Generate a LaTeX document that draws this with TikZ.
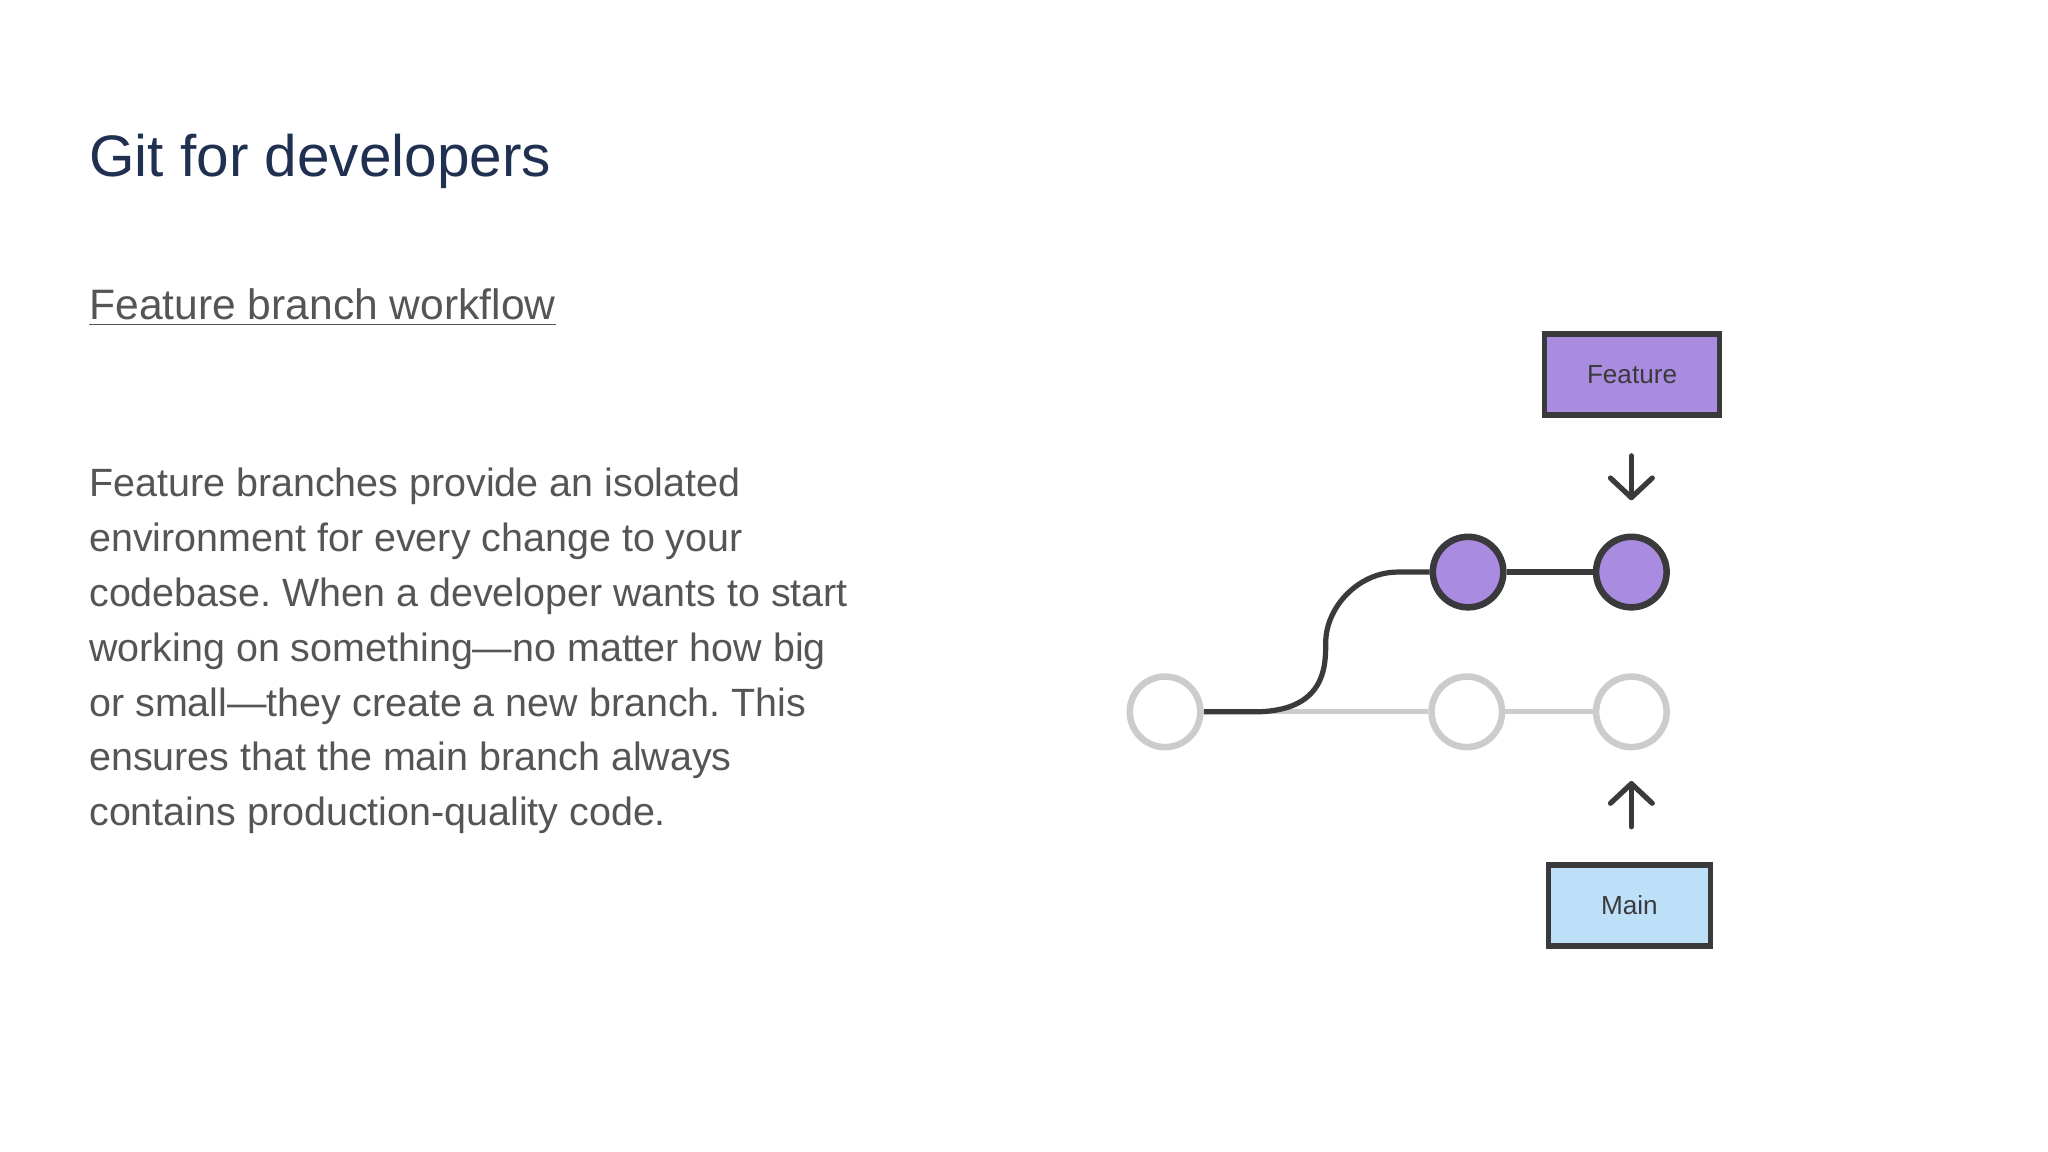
\documentclass[tikz,border=0pt]{standalone}
\usepackage{fontspec}
\setmainfont{Liberation Sans}
\usetikzlibrary{positioning, backgrounds}
\definecolor{titleblue}{HTML}{1F3050}
\definecolor{bodygrey}{HTML}{555555}
\definecolor{edgedark}{HTML}{3A3A3C}
\definecolor{edgelight}{HTML}{CCCCCC}
\definecolor{featfill}{HTML}{A98BE0}
\definecolor{mainfill}{HTML}{BDE0F8}
\tikzset{
  commit/.style={circle, draw=edgelight, line width=2.5pt, fill=white, minimum size=27pt, inner sep=0pt},
  featcommit/.style={commit, draw=edgedark, fill=featfill},
  branchbox/.style={draw=edgedark, line width=2.2pt, minimum height=31pt, font=\fontsize{10}{12}\selectfont, text=edgedark},
  pointer/.style={draw=edgedark, line width=2pt, line cap=round, line join=round}
}
\frenchspacing
\begin{document}
\begin{tikzpicture}[x=0.5pt, y=-0.5pt]
\useasboundingbox (0,0) rectangle (1568,882);

\node[anchor=base west, text=titleblue, font=\fontsize{22.4}{27}\selectfont, inner sep=0pt] (title) at (68,135) {Git for developers};
\node[anchor=base west, text=bodygrey, font=\fontsize{16.3}{19}\selectfont, inner sep=0pt] (subtitle) at (68,245) {\underline{Feature branch workflow}};
\node[anchor=north west, text=bodygrey, align=left, inner sep=0pt, font=\fontsize{15.1}{21}\selectfont] (para) at (68,358)
  {Feature branches provide an isolated\\environment for every change to your\\codebase. When a developer wants to start\\working on something—no matter how big\\or small—they create a new branch. This\\ensures that the main branch always\\contains production-quality code.};

% commits
\node[commit] (m1) at (892,545) {};
\node[commit] (m2) at (1123,545) {};
\node[commit] (m3) at (1249,545) {};
\node[featcommit] (f1) at (1124,438) {};
\node[featcommit] (f2) at (1249,438) {};

\begin{scope}[on background layer]
\draw[edgelight, line width=2pt] (m1) -- (m2) -- (m3);
\coordinate (fork) at (960,545);
\draw[edgedark, line width=2pt] (m1.east) -- (fork) .. controls (1015,545) and (1015,510) .. (1015,492)
  .. controls (1015,465) and (1040,438) .. (1070,438) -- (f1.west);
\draw[edgedark, line width=2pt] (f1) -- (f2);
\end{scope}

\node[branchbox, fill=featfill, minimum width=67pt] (feature) at (1249.5,287) {Feature};
\node[branchbox, fill=mainfill, minimum width=62pt] (main) at (1247.5,693) {Main};

\coordinate (dtop) at (1249,349);
\coordinate (dbot) at (1249,381);
\draw[pointer] (dtop) -- (dbot);
\draw[pointer] (1233,366) -- (dbot) -- (1265,366);
\coordinate (utop) at (1249,600);
\coordinate (ubot) at (1249,633);
\draw[pointer] (ubot) -- (utop);
\draw[pointer] (1233,615) -- (utop) -- (1265,615);
\end{tikzpicture}
\end{document}
